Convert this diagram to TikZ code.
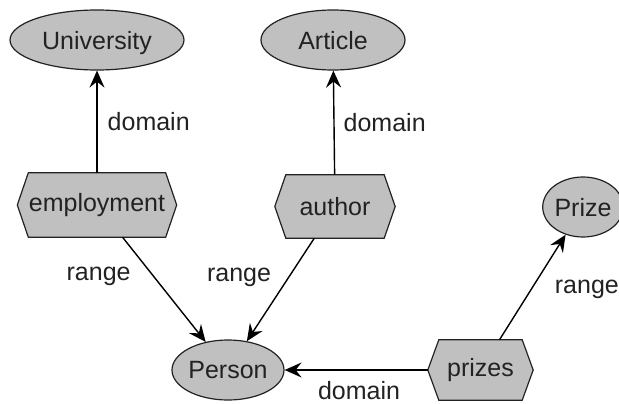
\documentclass[tikz,border=0pt]{standalone}
\usepackage{fontspec}
\setmainfont{Liberation Sans}
\usetikzlibrary{shapes.geometric,arrows.meta,backgrounds}

\definecolor{nodegray}{HTML}{C0C0C0}
\definecolor{inkgray}{HTML}{222222}

\tikzset{
  cls/.style={ellipse, draw=inkgray, fill=nodegray, line width=1.2pt,
              inner sep=0pt, minimum height=60pt, text depth=0pt},
  prop/.style={rectangle, inner sep=0pt},
  hexline/.style={draw=inkgray, fill=nodegray, line width=1.2pt},
  link/.style={-{Stealth[length=17pt,width=15pt,inset=6pt]},
               line width=1.4pt, draw=black},
  lbl/.style={text=inkgray, inner sep=3pt}
}

% property node drawn as a flat hexagon: name, position, width, height, text
\newcommand\hexprop[5]{%
  \node[prop, minimum width=#3, minimum height=#4, text=inkgray] (#1) at (#2) {#5};
  \begin{pgfonlayer}{background}
    \draw[hexline] ([xshift=11pt]#1.north west) -- ([xshift=-11pt]#1.north east)
      -- (#1.east) -- ([xshift=-11pt]#1.south east)
      -- ([xshift=11pt]#1.south west) -- (#1.west) -- cycle;
  \end{pgfonlayer}}

\begin{document}
\begin{tikzpicture}[x=1pt, y=-1pt, font=\fontsize{25}{30}\selectfont]
  \useasboundingbox (0,0) rectangle (619,404);

  % classes
  \node[cls, minimum width=174pt, text=inkgray] (univ)    at (97,40)  {University};
  \node[cls, minimum width=144pt, text=inkgray] (article) at (333,40) {Article};
  \node[cls, minimum width=70pt,  text=inkgray] (prize)   at (583,207) {Prize};
  \node[cls, minimum width=104pt, text=inkgray] (person)  at (228,370) {Person};

  % properties
  \hexprop{employment}{97,205}{159pt}{64pt}{employment}
  \hexprop{author}{335,206.5}{120pt}{63pt}{author}
  \hexprop{prizes}{480.5,370}{105pt}{60pt}{prizes}

  % domain and range links
  \draw[link] (employment) -- node[lbl, right=7pt] (d1) {domain} (univ);
  \draw[link] (author) -- node[lbl, right=6pt] (d2) {domain} (article);
  \draw[link] (employment) -- node[lbl, pos=0.37, left=19pt] (r1) {range} (person);
  \draw[link] (author) -- node[lbl, pos=0.38, left=14pt] (r2) {range} (person);
  \draw[link] (prizes) -- node[lbl, pos=0.48, right=20pt] (r3) {range} (prize);
  \draw[link] (prizes) -- node[lbl, pos=0.48, below=11pt, inner sep=0pt] (d3) {domain} (person);
\end{tikzpicture}
\end{document}
